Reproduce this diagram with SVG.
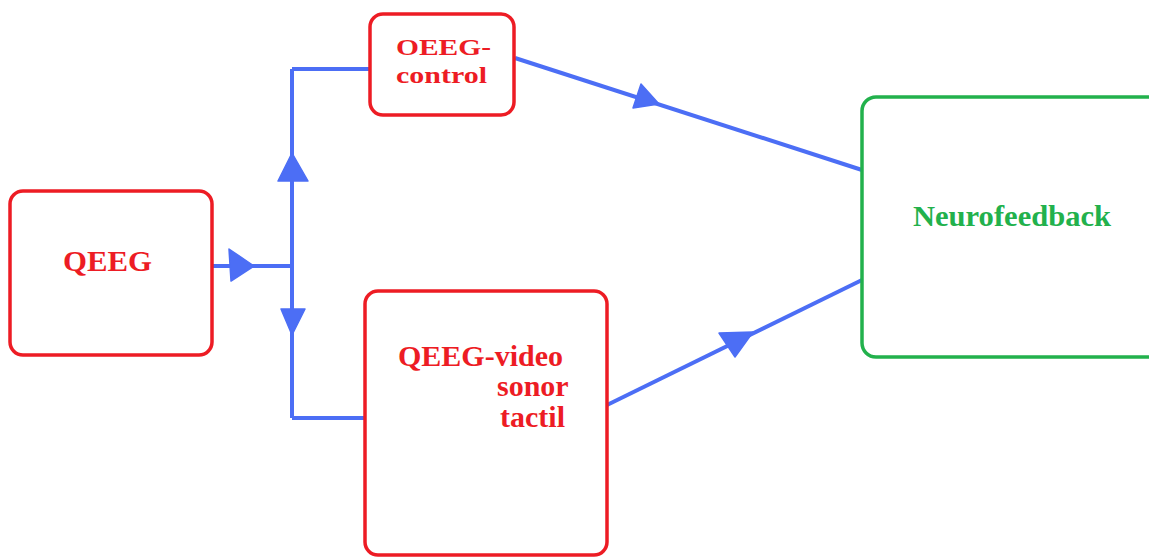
<svg xmlns="http://www.w3.org/2000/svg" width="1149" height="557" viewBox="0 0 1149 557">
  <style>
    .red { fill: #ffffff; stroke: #ed1c24; stroke-width: 3.5; }
    .green { fill: #ffffff; stroke: #22b14c; stroke-width: 3.5; }
    .lbl { font-family: "Liberation Serif", "Times New Roman", serif; font-weight: bold; font-size: 30px; }
    .sm { font-size: 24px; }
    .rt { fill: #ed1c24; }
    .gt { fill: #22b14c; }
    .wire { fill: none; stroke: #4c6ef5; stroke-width: 4; }
    .head { fill: #4c6ef5; stroke: #4c6ef5; stroke-width: 1.5; stroke-linejoin: round; }
  </style>
  <rect width="1149" height="557" fill="#ffffff"/>

  <g id="connectors">
    <path class="wire" d="M212 266 H292"/>
    <path class="wire" d="M292 69 V418"/>
    <path class="wire" d="M292 69 H370"/>
    <path class="wire" d="M292 418 H365"/>
    <path class="wire" d="M515 58 L862 170"/>
    <path class="wire" d="M607 405 L862 280"/>
    <polygon class="head" points="229,249 254,266 231,281"/>
    <polygon class="head" points="292,153 278,181 308,181"/>
    <polygon class="head" points="281,309 305,309 292,335"/>
    <polygon class="head" points="641,84 659,104 633,108"/>
    <polygon class="head" points="719,333 753,332 735,357"/>
  </g>

  <g id="qeeg">
    <rect class="red" x="10" y="191" width="202" height="164" rx="13"/>
    <text class="lbl rt" x="107.5" y="271" text-anchor="middle" textLength="89" lengthAdjust="spacingAndGlyphs">QEEG</text>
  </g>

  <g id="qeeg-control">
    <rect class="red" x="370" y="14" width="144" height="101" rx="13"/>
    <text class="lbl sm rt" x="396" y="55" textLength="95" lengthAdjust="spacingAndGlyphs">OEEG-</text>
    <text class="lbl sm rt" x="396" y="83" textLength="91" lengthAdjust="spacingAndGlyphs">control</text>
  </g>

  <g id="qeeg-video">
    <rect class="red" x="365" y="291" width="242" height="264" rx="13"/>
    <text class="lbl rt" x="398" y="366" textLength="165" lengthAdjust="spacingAndGlyphs">QEEG-video</text>
    <text class="lbl rt" x="497" y="396">sonor</text>
    <text class="lbl rt" x="500" y="427">tactil</text>
  </g>

  <g id="neurofeedback">
    <rect class="green" x="862" y="97" width="300" height="260" rx="14"/>
    <text class="lbl gt" x="913" y="226" textLength="198" lengthAdjust="spacingAndGlyphs">Neurofeedback</text>
  </g>
</svg>
